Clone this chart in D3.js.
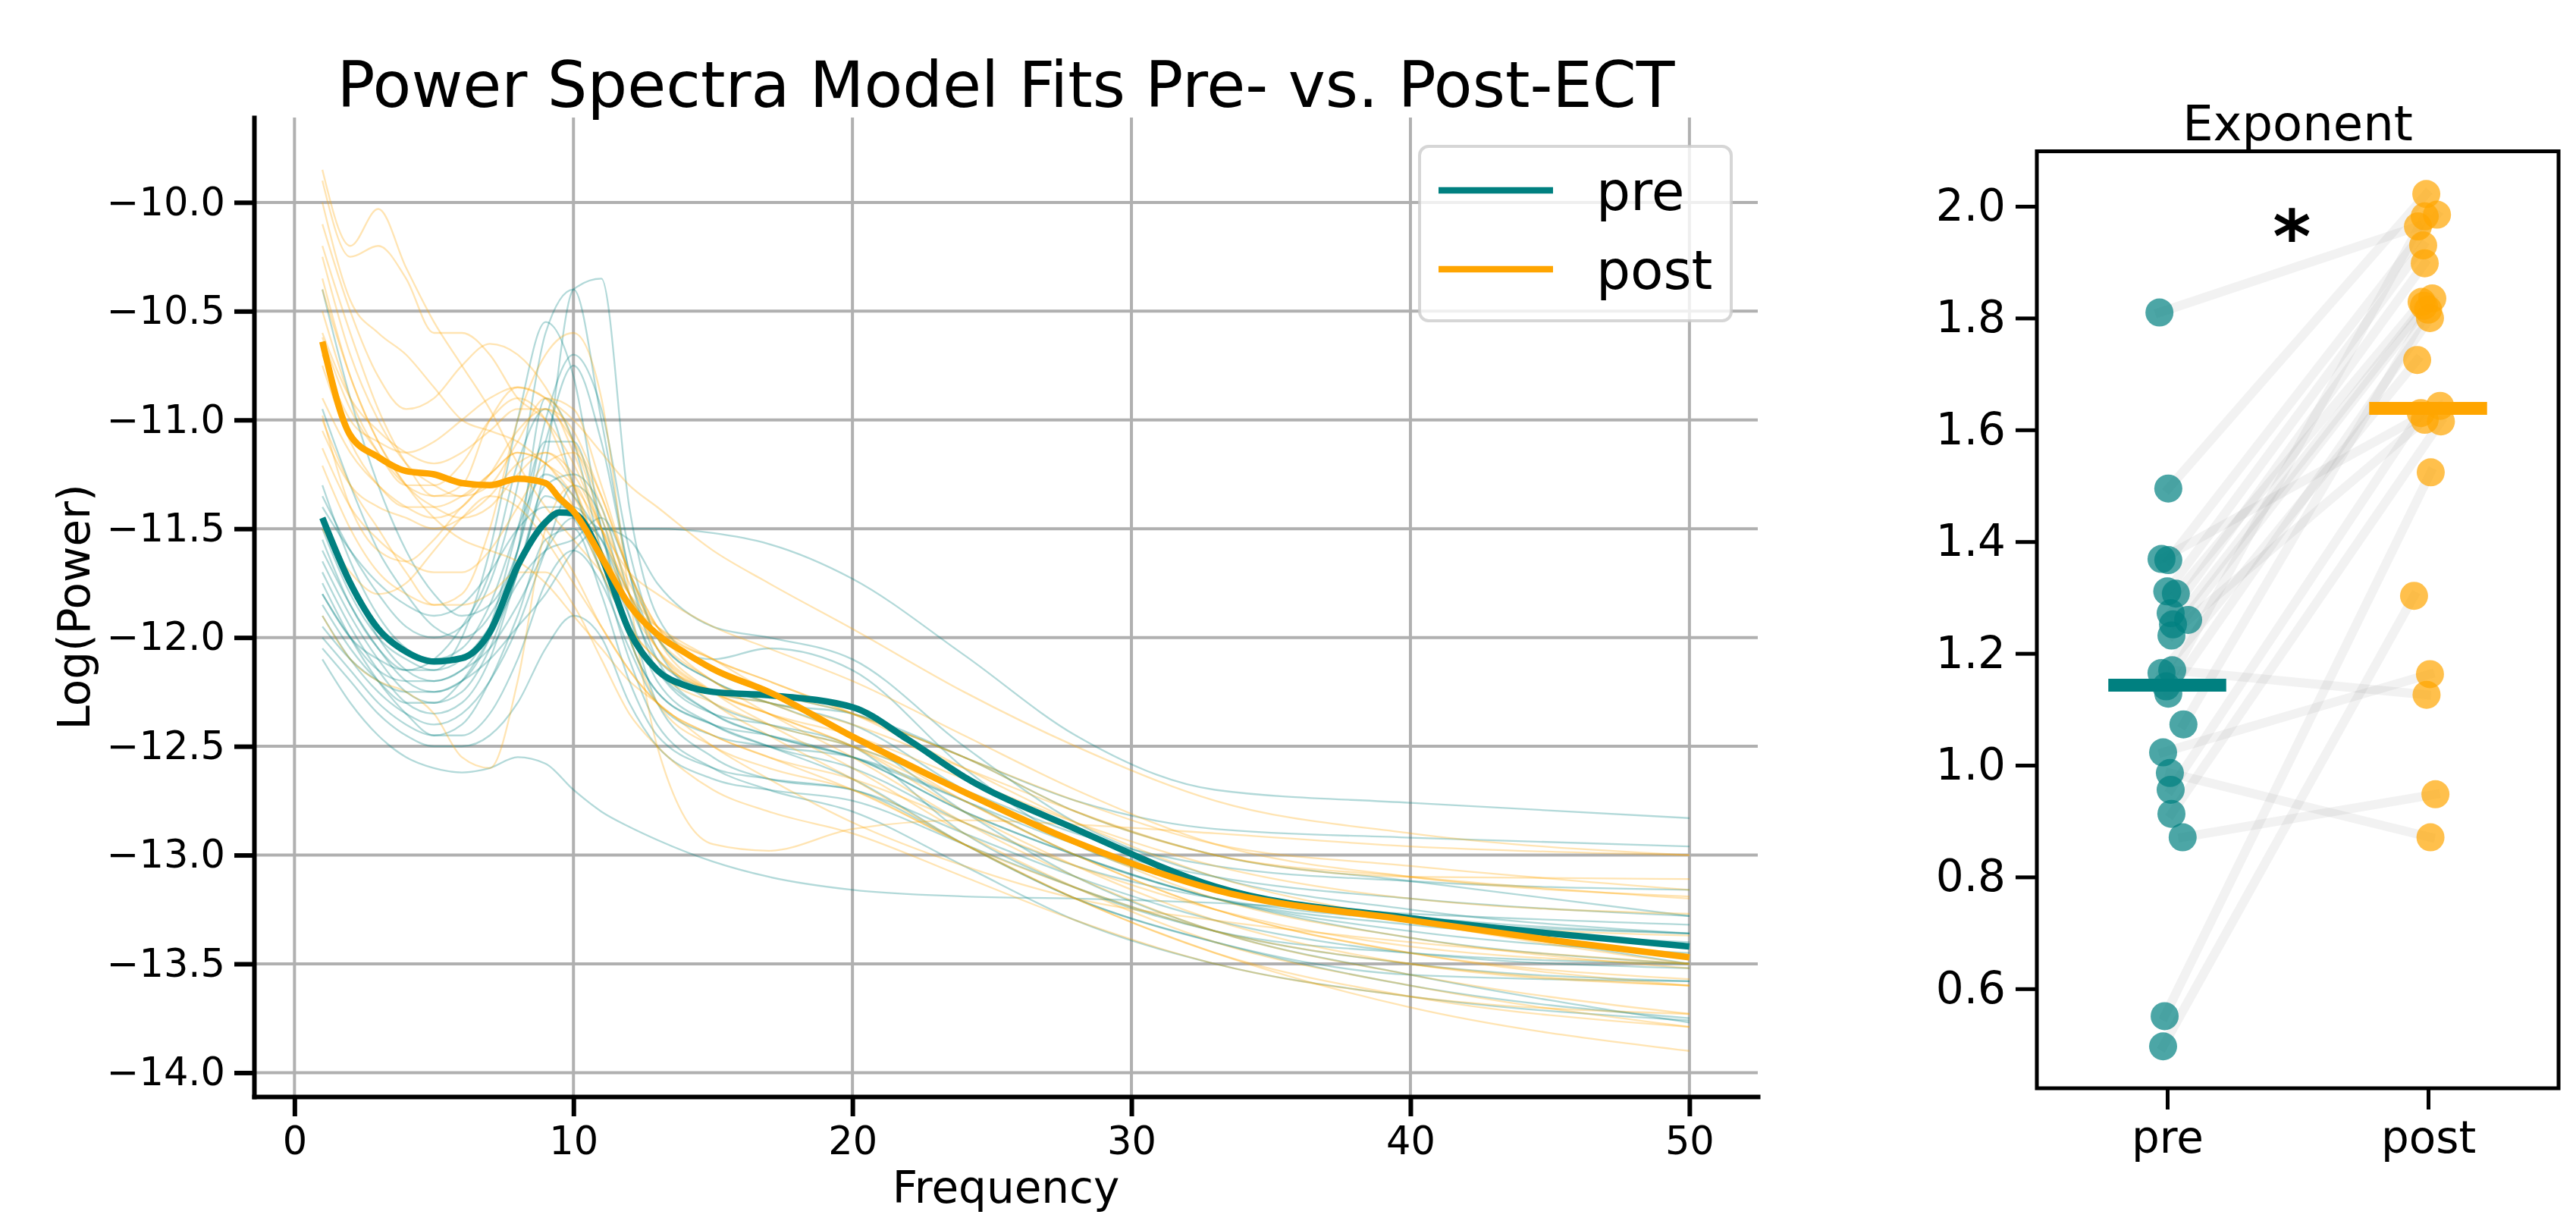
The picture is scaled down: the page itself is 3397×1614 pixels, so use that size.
<!DOCTYPE html>
<html>
<head>
<meta charset="utf-8">
<script src="https://d3js.org/d3.v7.min.js"></script>
<style>
  body { margin: 0; background: #fff; }
  text { font-family: "DejaVu Sans", sans-serif; }
</style>
</head>
<body>
<div id="chart"></div>
<script>
// ---- left panel: model fit spectra ----
var freqs = [1, 2, 3, 4, 5, 6, 7, 8, 9, 10, 11, 12, 13, 15, 17, 20, 24, 28, 33, 40, 50];

var preSpectra = [
  [-11.4,-11.6,-11.75,-11.85,-11.9,-11.85,-11.7,-11.5,-11.4,-11.4,-11.5,-11.5,-11.5,-11.52,-11.57,-11.73,-12.08,-12.45,-12.7,-12.76,-12.83],
  [-11.5,-11.8,-12.0,-12.1,-12.15,-12.1,-11.95,-11.7,-11.2,-10.4,-10.35,-11.4,-11.9,-12.15,-12.25,-12.35,-12.55,-12.75,-12.88,-12.92,-12.96],
  [-11.35,-11.6,-11.8,-11.95,-12.0,-11.95,-11.75,-11.3,-10.6,-10.4,-11.0,-11.7,-12.1,-12.35,-12.45,-12.55,-12.75,-12.95,-13.1,-13.2,-13.28],
  [-10.4,-10.9,-11.3,-11.6,-11.8,-11.9,-11.85,-11.6,-11.1,-10.75,-11.1,-11.7,-12.05,-12.3,-12.4,-12.5,-12.7,-12.9,-13.05,-13.12,-13.16],
  [-11.6,-11.85,-12.05,-12.2,-12.25,-12.2,-12.0,-11.6,-10.9,-11.1,-11.6,-11.9,-12.2,-12.4,-12.5,-12.6,-12.85,-13.05,-13.2,-13.3,-13.36],
  [-11.7,-11.95,-12.15,-12.3,-12.35,-12.3,-12.1,-11.7,-11.3,-11.25,-11.4,-11.8,-12.15,-12.35,-12.4,-12.5,-12.9,-13.15,-13.35,-13.45,-13.5],
  [-11.8,-12.0,-12.15,-12.2,-12.2,-12.15,-12.05,-11.85,-11.6,-11.45,-11.55,-11.8,-12.0,-12.1,-12.05,-12.15,-12.6,-12.95,-13.15,-13.28,-13.36],
  [-11.9,-12.1,-12.25,-12.35,-12.4,-12.35,-12.2,-11.95,-11.6,-11.3,-11.45,-11.9,-12.3,-12.55,-12.65,-12.7,-12.9,-13.1,-13.3,-13.45,-13.52],
  [-12.1,-12.3,-12.45,-12.55,-12.6,-12.62,-12.6,-12.55,-12.58,-12.7,-12.8,-12.87,-12.93,-13.03,-13.1,-13.16,-13.19,-13.2,-13.22,-13.27,-13.32],
  [-11.45,-11.75,-12.0,-12.15,-12.2,-12.15,-11.95,-11.5,-11.1,-11.1,-11.5,-12.0,-12.25,-12.4,-12.5,-12.65,-12.95,-13.2,-13.4,-13.55,-13.58],
  [-12.0,-12.15,-12.3,-12.4,-12.45,-12.4,-12.2,-11.9,-11.55,-11.5,-11.8,-12.2,-12.45,-12.6,-12.65,-12.7,-12.95,-13.2,-13.4,-13.6,-13.75],
  [-11.65,-11.9,-12.1,-12.25,-12.3,-12.25,-12.05,-11.7,-11.35,-11.45,-11.7,-12.1,-12.4,-12.6,-12.7,-12.8,-13.05,-13.3,-13.5,-13.65,-13.76],
  [-11.85,-12.05,-12.2,-12.3,-12.3,-12.2,-12.0,-11.75,-11.6,-11.55,-11.45,-11.7,-12.0,-12.2,-12.3,-12.45,-12.8,-13.1,-13.35,-13.55,-13.77],
  [-11.55,-11.85,-12.05,-12.15,-12.15,-12.0,-11.6,-11.0,-10.55,-10.8,-11.5,-12.0,-12.25,-12.4,-12.45,-12.55,-12.8,-13.0,-13.2,-13.32,-13.4],
  [-11.75,-12.0,-12.2,-12.35,-12.45,-12.45,-12.35,-12.1,-11.75,-11.6,-11.75,-12.05,-12.3,-12.45,-12.5,-12.55,-12.75,-13.0,-13.2,-13.38,-13.5],
  [-11.95,-12.1,-12.2,-12.25,-12.25,-12.2,-12.1,-11.95,-11.8,-11.6,-11.5,-11.55,-11.75,-11.95,-12.0,-12.1,-12.5,-12.85,-13.1,-13.25,-13.36],
  [-11.3,-11.65,-11.9,-12.05,-12.1,-12.05,-11.85,-11.5,-11.25,-11.35,-11.55,-11.85,-12.1,-12.25,-12.3,-12.4,-12.7,-12.95,-13.15,-13.3,-13.5],
  [-12.05,-12.2,-12.35,-12.45,-12.5,-12.5,-12.45,-12.3,-12.05,-11.9,-12.0,-12.3,-12.5,-12.65,-12.7,-12.75,-12.95,-13.15,-13.35,-13.5,-13.58],
  [-10.95,-11.3,-11.6,-11.8,-11.95,-12.0,-11.9,-11.6,-11.0,-10.7,-10.95,-11.6,-12.0,-12.2,-12.3,-12.35,-12.55,-12.8,-13.0,-13.12,-13.28],
  [-11.8,-12.0,-12.1,-12.15,-12.1,-11.95,-11.7,-11.2,-10.95,-11.3,-11.7,-11.95,-12.15,-12.35,-12.45,-12.55,-12.8,-13.0,-13.2,-13.35,-13.45]
];

var postSpectra = [
  [-9.85,-10.2,-10.03,-10.3,-10.55,-10.75,-10.95,-11.2,-11.4,-11.55,-11.7,-11.85,-11.95,-12.1,-12.25,-12.45,-12.75,-13.0,-13.25,-13.45,-13.6],
  [-9.9,-10.25,-10.2,-10.35,-10.6,-10.6,-10.7,-10.9,-11.0,-11.2,-11.5,-11.8,-12.0,-12.2,-12.35,-12.55,-12.85,-13.1,-13.35,-13.55,-13.73],
  [-10.0,-10.45,-10.6,-10.7,-10.85,-11.0,-11.05,-11.1,-11.2,-11.3,-11.5,-11.7,-11.8,-11.95,-12.05,-12.2,-12.45,-12.7,-12.95,-13.1,-13.19],
  [-10.1,-10.5,-10.8,-10.95,-10.9,-10.75,-10.65,-10.7,-10.85,-11.1,-11.45,-11.75,-11.95,-12.1,-12.2,-12.35,-12.6,-12.85,-13.1,-13.3,-13.5],
  [-10.2,-10.6,-10.95,-11.2,-11.35,-11.3,-11.0,-10.85,-10.9,-11.15,-11.5,-11.85,-12.05,-12.25,-12.35,-12.5,-12.75,-13.0,-13.25,-13.45,-13.57],
  [-10.25,-10.7,-11.0,-11.2,-11.3,-11.35,-11.3,-11.1,-10.9,-10.95,-11.3,-11.7,-12.0,-12.25,-12.4,-12.6,-12.9,-13.15,-13.4,-13.6,-13.79],
  [-11.0,-11.3,-11.5,-11.7,-11.85,-11.8,-11.5,-11.0,-10.7,-10.6,-10.9,-11.8,-12.5,-12.95,-12.98,-12.88,-12.84,-12.86,-12.9,-12.96,-13.0],
  [-10.4,-10.8,-11.1,-11.3,-11.4,-11.45,-11.4,-11.25,-11.15,-11.25,-11.5,-11.8,-12.05,-12.3,-12.45,-12.65,-12.95,-13.2,-13.45,-13.7,-13.9],
  [-10.5,-10.9,-11.15,-11.3,-11.3,-11.2,-11.0,-10.9,-11.0,-11.3,-11.65,-11.95,-12.1,-12.25,-12.3,-12.4,-12.6,-12.8,-13.0,-13.1,-13.11],
  [-10.6,-10.9,-11.05,-11.15,-11.2,-11.15,-11.05,-10.95,-10.95,-11.1,-11.35,-11.7,-11.95,-12.2,-12.3,-12.45,-12.7,-12.95,-13.2,-13.38,-13.52],
  [-10.62,-10.95,-11.15,-11.3,-11.35,-11.35,-11.25,-11.15,-11.2,-11.4,-11.7,-11.95,-12.1,-12.25,-12.35,-12.5,-12.8,-13.05,-13.3,-13.5,-13.6],
  [-10.9,-11.15,-11.3,-11.4,-11.45,-11.4,-11.25,-11.05,-10.95,-11.05,-11.35,-11.7,-11.95,-12.15,-12.25,-12.35,-12.55,-12.75,-12.95,-13.05,-13.16],
  [-10.98,-11.4,-11.6,-11.65,-11.55,-11.4,-11.3,-11.35,-11.5,-11.7,-11.95,-12.15,-12.3,-12.45,-12.55,-12.7,-12.95,-13.2,-13.45,-13.65,-13.79],
  [-11.05,-11.3,-11.4,-11.45,-11.5,-11.45,-11.35,-11.2,-11.15,-11.3,-11.65,-11.95,-12.15,-12.3,-12.4,-12.5,-12.7,-12.95,-13.15,-13.3,-13.37],
  [-11.13,-11.4,-11.55,-11.65,-11.7,-11.7,-11.6,-11.4,-11.2,-11.15,-11.4,-11.8,-12.05,-12.25,-12.35,-12.45,-12.65,-12.85,-13.05,-13.2,-13.27],
  [-11.21,-11.5,-11.7,-11.8,-11.85,-11.85,-11.8,-11.7,-11.7,-11.85,-12.1,-12.35,-12.5,-12.7,-12.8,-12.9,-13.1,-13.3,-13.5,-13.65,-13.73],
  [-11.9,-12.1,-12.2,-12.25,-12.35,-12.55,-12.6,-12.2,-11.5,-11.3,-11.6,-12.0,-12.3,-12.5,-12.6,-12.7,-12.95,-13.15,-13.35,-13.5,-13.6],
  [-10.35,-10.8,-11.1,-11.3,-11.45,-11.55,-11.6,-11.65,-11.75,-11.9,-12.05,-12.2,-12.3,-12.5,-12.65,-12.85,-13.05,-13.2,-13.3,-13.4,-13.5],
  [-10.75,-11.1,-11.3,-11.4,-11.4,-11.35,-11.25,-11.15,-11.2,-11.35,-11.6,-11.8,-11.95,-12.1,-12.2,-12.35,-12.55,-12.8,-13.0,-13.1,-13.2],
  [-11.5,-11.7,-11.8,-11.75,-11.6,-11.45,-11.35,-11.4,-11.55,-11.75,-11.95,-12.15,-12.3,-12.45,-12.55,-12.65,-12.85,-13.05,-13.25,-13.42,-13.5],
  [-10.7,-11.0,-11.1,-11.15,-11.1,-11.0,-10.9,-10.85,-10.9,-11.0,-11.15,-11.3,-11.4,-11.6,-11.75,-11.96,-12.25,-12.5,-12.75,-12.9,-13.0]
];

var meanFreqs = [1, 2, 3, 4, 5, 6, 7, 8, 9, 9.5, 10, 11, 12, 13, 14, 15, 17, 20, 22, 24, 28, 33, 40, 45, 50];
var preMean  = [-11.45,-11.75,-11.96,-12.065,-12.11,-12.095,-11.975,-11.67,-11.47,-11.425,-11.43,-11.63,-11.97,-12.15,-12.22,-12.25,-12.265,-12.32,-12.47,-12.64,-12.88,-13.145,-13.29,-13.36,-13.42];
var postMean = [-10.64,-11.07,-11.17,-11.235,-11.25,-11.29,-11.30,-11.27,-11.29,-11.36,-11.42,-11.63,-11.85,-11.985,-12.07,-12.145,-12.25,-12.455,-12.585,-12.71,-12.94,-13.16,-13.30,-13.39,-13.47];

var xTicks = [0, 10, 20, 30, 40, 50];
var yTicks = [-10.0, -10.5, -11.0, -11.5, -12.0, -12.5, -13.0, -13.5, -14.0];

// ---- right panel: aperiodic exponent per subject (same order = paired) ----
var conditions = ["pre", "post"];
var preExp    = [1.810, 1.495, 1.369, 1.367, 1.311, 1.307, 1.272, 1.260, 1.252, 1.232, 1.165, 1.170, 1.141, 1.128, 1.073, 1.023, 0.986, 0.956, 0.913, 0.871, 0.551, 0.497];
var postExp   = [1.964, 2.022, 1.643, 1.985, 1.930, 1.829, 1.898, 1.618, 1.822, 1.835, 1.725, 1.126, 1.982, 1.800, 1.815, 1.163, 0.871, 1.630, 1.615, 0.948, 1.524, 1.303];
var preJitter  = [-0.030, 0.004, -0.022, 0.004, 0.000, 0.033, 0.013, 0.080, 0.022, 0.016, -0.022, 0.019, -0.004, 0.004, 0.062, -0.016, 0.010, 0.013, 0.016, 0.059, -0.010, -0.016];
var postJitter = [-0.039, -0.007, 0.046, 0.034, -0.019, -0.025, -0.013, -0.013, -0.016, 0.016, -0.042, -0.006, -0.013, 0.007, 0.000, 0.007, 0.009, -0.028, 0.049, 0.028, 0.010, -0.054];
var expTicks = [0.6, 0.8, 1.0, 1.2, 1.4, 1.6, 1.8, 2.0];

var TEAL = "#008080", ORANGE = "#ffa500";
var W = 3397, H = 1614;

var svg = d3.select("#chart").append("svg")
    .attr("width", W)
    .attr("height", H);
svg.append("rect").attr("width", W).attr("height", H).attr("fill", "#fff");

// ================= left panel =================
var L = {left: 335, right: 2318, top: 155, bottom: 1446};
var x = d3.scaleLinear().domain([-1.45, 52.45]).range([L.left, L.right]);
var y = d3.scaleLinear().domain([-9.61, -14.11]).range([L.top, L.bottom]);

var left = svg.append("g");

// grid
left.selectAll(".vgrid").data(xTicks).join("line")
    .attr("x1", d => x(d)).attr("x2", d => x(d))
    .attr("y1", L.top).attr("y2", L.bottom)
    .attr("stroke", "#b0b0b0").attr("stroke-width", 4);
left.selectAll(".hgrid").data(yTicks).join("line")
    .attr("x1", L.left).attr("x2", L.right)
    .attr("y1", d => y(d)).attr("y2", d => y(d))
    .attr("stroke", "#b0b0b0").attr("stroke-width", 4);

var thin = d3.line()
    .x((d, i) => x(freqs[i]))
    .y(d => y(d))
    .curve(d3.curveMonotoneX);

left.append("g").selectAll("path").data(preSpectra).join("path")
    .attr("d", thin)
    .attr("fill", "none").attr("stroke", TEAL)
    .attr("stroke-opacity", 0.3).attr("stroke-width", 2.3);

left.append("g").selectAll("path").data(postSpectra).join("path")
    .attr("d", thin)
    .attr("fill", "none").attr("stroke", ORANGE)
    .attr("stroke-opacity", 0.3).attr("stroke-width", 2.3);

var thick = d3.line()
    .x((d, i) => x(meanFreqs[i]))
    .y(d => y(d))
    .curve(d3.curveMonotoneX);

left.append("path").datum(preMean).attr("d", thick)
    .attr("fill", "none").attr("stroke", TEAL).attr("stroke-width", 8.5);
left.append("path").datum(postMean).attr("d", thick)
    .attr("fill", "none").attr("stroke", ORANGE).attr("stroke-width", 8.5);

// axes
function styleAxis(sel, fs, sw) {
    sel.attr("font-size", fs).attr("font-family", "DejaVu Sans");
    sel.select(".domain").attr("stroke-width", sw).attr("stroke-linecap", "square");
    sel.selectAll(".tick line").attr("stroke-width", sw);
    sel.selectAll(".tick text").attr("fill", "#000");
}

left.append("g")
    .attr("transform", "translate(" + L.left + ",0)")
    .call(d3.axisLeft(y).tickValues(yTicks).tickFormat(d3.format(".1f"))
        .tickSize(26).tickPadding(12).tickSizeOuter(0))
    .call(styleAxis, 51, 6);

left.append("g")
    .attr("transform", "translate(0," + L.bottom + ")")
    .call(d3.axisBottom(x).tickValues(xTicks).tickFormat(d3.format("d"))
        .tickSize(26).tickPadding(14).tickSizeOuter(0))
    .call(styleAxis, 51, 6);

svg.append("text")
    .attr("x", (L.left + L.right) / 2).attr("y", 141)
    .attr("text-anchor", "middle").attr("font-size", 83)
    .text("Power Spectra Model Fits Pre- vs. Post-ECT");

svg.append("text")
    .attr("x", (L.left + L.right) / 2).attr("y", 1586)
    .attr("text-anchor", "middle").attr("font-size", 58)
    .text("Frequency");

svg.append("text")
    .attr("transform", "translate(118," + (L.top + L.bottom) / 2 + ") rotate(-90)")
    .attr("text-anchor", "middle").attr("font-size", 58)
    .text("Log(Power)");

// legend
var leg = svg.append("g");
leg.append("rect")
    .attr("x", 1872).attr("y", 193).attr("width", 411).attr("height", 230)
    .attr("rx", 12)
    .attr("fill", "#fff").attr("fill-opacity", 0.8)
    .attr("stroke", "#cccccc").attr("stroke-opacity", 0.8).attr("stroke-width", 4);
var legItems = [{label: "pre", color: TEAL}, {label: "post", color: ORANGE}];
var li = leg.selectAll(".li").data(legItems).join("g")
    .attr("transform", (d, i) => "translate(0," + (251 + i * 104) + ")");
li.append("line")
    .attr("x1", 1897).attr("x2", 2048)
    .attr("stroke", d => d.color).attr("stroke-width", 8.5);
li.append("text")
    .attr("x", 2105).attr("y", 26)
    .attr("font-size", 71)
    .text(d => d.label);

// ================= right panel =================
var R = {left: 2686, right: 3374, top: 199.5, bottom: 1435};
var xr = d3.scaleLinear().domain([-0.5, 1.5]).range([R.left, R.right]);
var yr = d3.scaleLinear().domain([2.0984, 0.422]).range([R.top, R.bottom]);

var right = svg.append("g");

var subjects = d3.range(preExp.length);

right.append("g").selectAll("line").data(subjects).join("line")
    .attr("x1", i => xr(0 + preJitter[i]))
    .attr("y1", i => yr(preExp[i]))
    .attr("x2", i => xr(1 + postJitter[i]))
    .attr("y2", i => yr(postExp[i]))
    .attr("stroke", "#808080").attr("stroke-opacity", 0.1)
    .attr("stroke-width", 12).attr("stroke-linecap", "square");

right.append("g").selectAll("circle").data(subjects).join("circle")
    .attr("cx", i => xr(0 + preJitter[i]))
    .attr("cy", i => yr(preExp[i]))
    .attr("r", 18.5)
    .attr("fill", TEAL).attr("fill-opacity", 0.7);

right.append("g").selectAll("circle").data(subjects).join("circle")
    .attr("cx", i => xr(1 + postJitter[i]))
    .attr("cy", i => yr(postExp[i]))
    .attr("r", 18.5)
    .attr("fill", ORANGE).attr("fill-opacity", 0.7);

// group means
var means = [d3.mean(preExp), d3.mean(postExp)];
right.selectAll(".meanbar").data(means).join("line")
    .attr("x1", (d, i) => xr(i - 0.226))
    .attr("x2", (d, i) => xr(i + 0.226))
    .attr("y1", d => yr(d)).attr("y2", d => yr(d))
    .attr("stroke", (d, i) => i === 0 ? TEAL : ORANGE)
    .attr("stroke-width", 17);

right.append("text")
    .attr("x", xr(0.478)).attr("y", yr(1.90))
    .attr("text-anchor", "middle")
    .attr("font-size", 96).attr("font-weight", "bold")
    .text("*");

right.append("rect")
    .attr("x", R.left).attr("y", R.top)
    .attr("width", R.right - R.left).attr("height", R.bottom - R.top)
    .attr("fill", "none").attr("stroke", "#000").attr("stroke-width", 5);

var ra = right.append("g")
    .attr("transform", "translate(" + R.left + ",0)")
    .call(d3.axisLeft(yr).tickValues(expTicks).tickFormat(d3.format(".1f"))
        .tickSize(28).tickPadding(13).tickSizeOuter(0))
    .call(styleAxis, 58, 5);
ra.select(".domain").remove();

var rb = right.append("g")
    .attr("transform", "translate(0," + R.bottom + ")")
    .call(d3.axisBottom(xr).tickValues([0, 1]).tickFormat(i => conditions[i])
        .tickSize(28).tickPadding(16).tickSizeOuter(0))
    .call(styleAxis, 58, 5);
rb.select(".domain").remove();

svg.append("text")
    .attr("x", (R.left + R.right) / 2).attr("y", 185)
    .attr("text-anchor", "middle").attr("font-size", 64)
    .text("Exponent");
</script>
</body>
</html>
